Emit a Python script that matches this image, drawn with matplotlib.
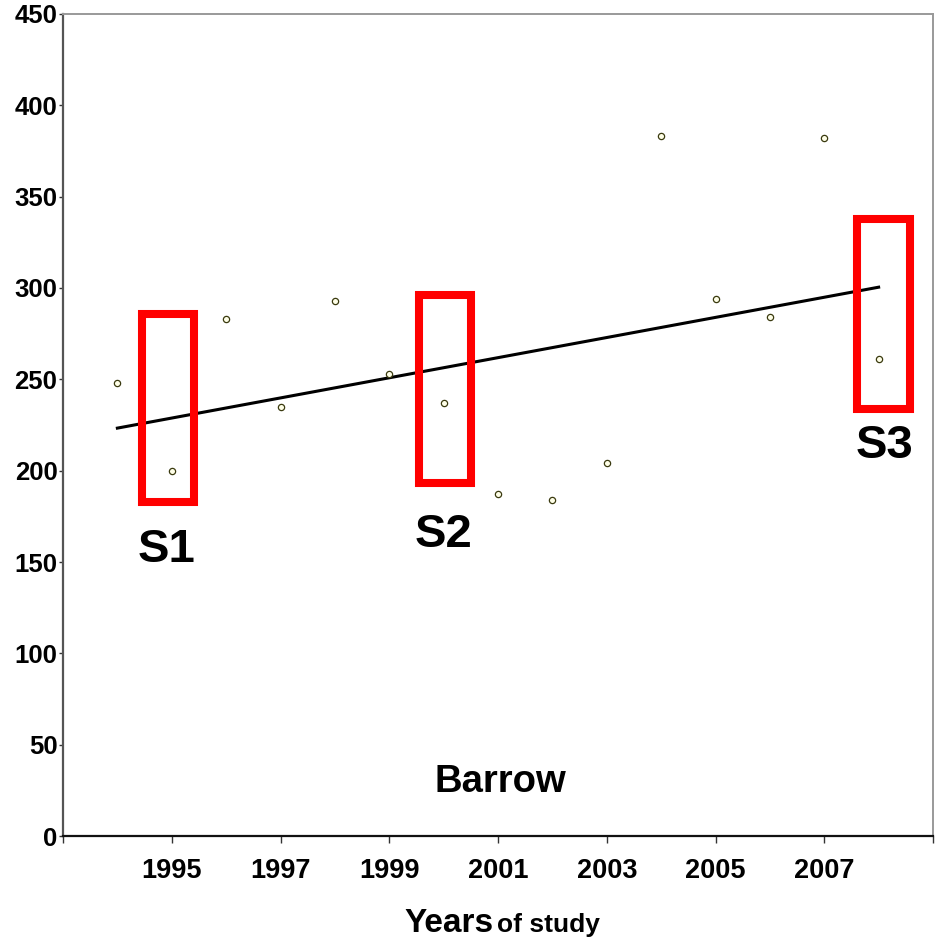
import numpy as np
import matplotlib
matplotlib.use("Agg")
import matplotlib.pyplot as plt
from matplotlib.patches import Rectangle

plt.rcParams['font.family'] = ['Liberation Sans', 'DejaVu Sans']

# Annual values at Barrow
years = [1994, 1995, 1996, 1997, 1998, 1999, 2000, 2001, 2002, 2003, 2004, 2005, 2006, 2007, 2008]
values = [248, 200, 283, 235, 293, 253, 237, 187, 184, 204, 383, 294, 284, 382, 261]

# Highlighted study periods: (label, x start, x end, y low, y high)
boxes = [("S1", 1994.45, 1995.4, 183, 286),
         ("S2", 1999.55, 2000.5, 193, 296),
         ("S3", 2007.6, 2008.57, 234, 338)]
box_labels = [("S1", 1994.9, 150), ("S2", 2000.0, 158), ("S3", 2008.1, 207)]

xticks = [1993, 1995, 1997, 1999, 2001, 2003, 2005, 2007, 2009]
xticklabels = ["", "1995", "1997", "1999", "2001", "2003", "2005", "2007", ""]
yticks = [0, 50, 100, 150, 200, 250, 300, 350, 400, 450]

fig = plt.figure(figsize=(9.38, 9.39), dpi=100)
ax = fig.add_axes([63 / 938, 1 - 836 / 939, (933 - 63) / 938, (836 - 14) / 939])

ax.plot(years, values, linestyle='none', marker='o', markersize=4.5,
        markerfacecolor='#ffffe8', markeredgecolor='#3a3a10', markeredgewidth=0.9, zorder=3)

# Linear trend
coef = np.polyfit(years, values, 1)
xs = np.array([years[0], years[-1]])
ax.plot(xs, np.polyval(coef, xs), color='black', linewidth=2.2, zorder=2)

for name, x0, x1, y0, y1 in boxes:
    ax.add_patch(Rectangle((x0, y0), x1 - x0, y1 - y0, fill=False,
                           edgecolor='#ff0000', linewidth=5.8, zorder=4))
for name, x, y in box_labels:
    ax.text(x, y, name, fontsize=34, fontweight='bold', ha='center', va='baseline')

ax.text(2001.05, 24, "Barrow", fontsize=27.5, fontweight='bold', ha='center', va='baseline')

ax.set_xlim(1993, 2009)
ax.set_ylim(0, 450)
ax.set_xticks(xticks)
ax.set_xticklabels(xticklabels, fontsize=19.5, fontweight='bold')
ax.set_yticks(yticks)
ax.set_yticklabels([str(v) for v in yticks], fontsize=18.5, fontweight='bold')
ax.tick_params(axis='x', direction='out', length=5, width=1, pad=11, color='#333333')
ax.tick_params(axis='y', direction='out', length=3, width=1, pad=1, color='#333333')

ax.spines['left'].set_color('#555555')
ax.spines['left'].set_linewidth(1.6)
ax.spines['bottom'].set_color('#111111')
ax.spines['bottom'].set_linewidth(1.6)
ax.spines['top'].set_color('#999999')
ax.spines['top'].set_linewidth(1.4)
ax.spines['right'].set_color('#999999')
ax.spines['right'].set_linewidth(1.4)

fig.text(404 / 938, 1 - 932 / 939, "Years", fontsize=24, fontweight='bold',
         ha='left', va='baseline')
fig.text(497 / 938, 1 - 932 / 939, "of study", fontsize=19, fontweight='bold',
         ha='left', va='baseline')

fig.savefig("out.png", dpi=100, facecolor='white')
